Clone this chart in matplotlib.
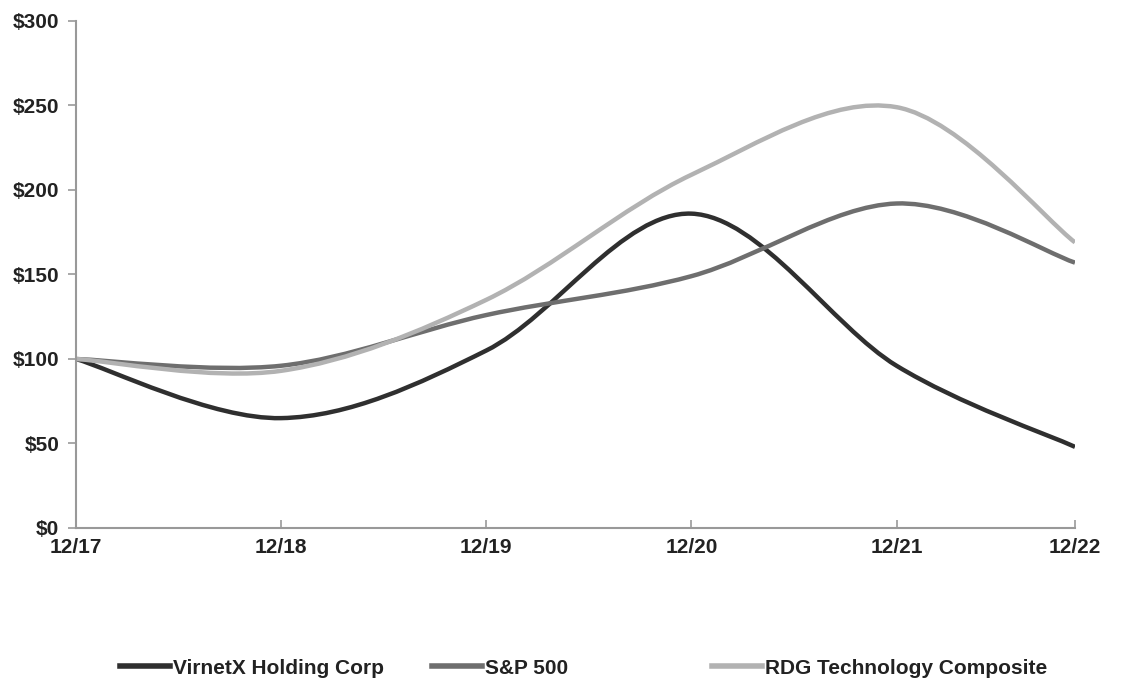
import matplotlib.pyplot as plt
from matplotlib.path import Path
from matplotlib.patches import PathPatch
from matplotlib.lines import Line2D

plt.rcParams['font.family'] = ['Liberation Sans', 'DejaVu Sans']
plt.rcParams['font.weight'] = 'bold'

# data
years = ['12/17', '12/18', '12/19', '12/20', '12/21', '12/22']
# the last period is drawn a bit shorter than the others in the original
year_pos = [0, 1, 2, 3, 4, 4.87]
virnetx = [100, 65, 105, 186, 96, 48]
sp500 = [100, 96, 126, 149, 192, 157]
rdg_tech = [100, 93, 135, 209, 249, 169]

series_names = ['VirnetX Holding Corp', 'S&P 500', 'RDG Technology Composite']
series_values = [virnetx, sp500, rdg_tech]
colors = ['#2f2f2f', '#6e6e6e', '#b2b2b2']


def smooth_path(xs, ys):
    # Excel style smoothed line: cubic bezier through every point
    pts = list(zip(xs, ys))
    verts = [pts[0]]
    codes = [Path.MOVETO]
    n = len(pts)
    for i in range(n - 1):
        p0 = pts[i - 1] if i > 0 else pts[i]
        p1 = pts[i]
        p2 = pts[i + 1]
        p3 = pts[i + 2] if i + 2 < n else pts[i + 1]
        c1 = (p1[0] + (p2[0] - p0[0]) / 6, p1[1] + (p2[1] - p0[1]) / 6)
        c2 = (p2[0] - (p3[0] - p1[0]) / 6, p2[1] - (p3[1] - p1[1]) / 6)
        verts += [c1, c2, p2]
        codes += [Path.CURVE4] * 3
    return Path(verts, codes)


fig = plt.figure(figsize=(11.28, 6.88), dpi=100)
ax = fig.add_axes([0.0674, 0.2326, 0.8856, 0.7369])

for name, vals, c in zip(series_names, series_values, colors):
    patch = PathPatch(smooth_path(year_pos, vals), facecolor='none', edgecolor=c,
                      lw=3.2, capstyle='butt', joinstyle='round')
    ax.add_patch(patch)

ax.set_xlim(year_pos[0], year_pos[-1])
ax.set_ylim(0, 300)
ax.set_xticks(year_pos)
ax.set_xticklabels(years)
ax.set_yticks(range(0, 301, 50))
ax.set_yticklabels(['$' + str(v) for v in range(0, 301, 50)])

for s in ['top', 'right']:
    ax.spines[s].set_visible(False)
for s in ['left', 'bottom']:
    ax.spines[s].set_color('#999999')
    ax.spines[s].set_linewidth(1.5)

ax.tick_params(axis='x', direction='in', length=6, width=1.2, color='#999999',
               pad=7, labelsize=15, labelcolor='#222222')
ax.tick_params(axis='y', direction='out', length=6, width=1.2, color='#999999',
               pad=6, labelsize=15, labelcolor='#222222')

# legend, three separate entries placed like the original
legend_x = [0.106, 0.383, 0.631]
for name, c, lx in zip(series_names, colors, legend_x):
    h = Line2D([], [], color=c, lw=4)
    fig.legend([h], [name], loc='center left', bbox_to_anchor=(lx, 0.029),
               frameon=False, handlelength=2.4, handletextpad=0.15,
               borderpad=0, borderaxespad=0,
               prop={'size': 15, 'weight': 'bold'}, labelcolor='#222222')

fig.savefig('out.png', dpi=100)
